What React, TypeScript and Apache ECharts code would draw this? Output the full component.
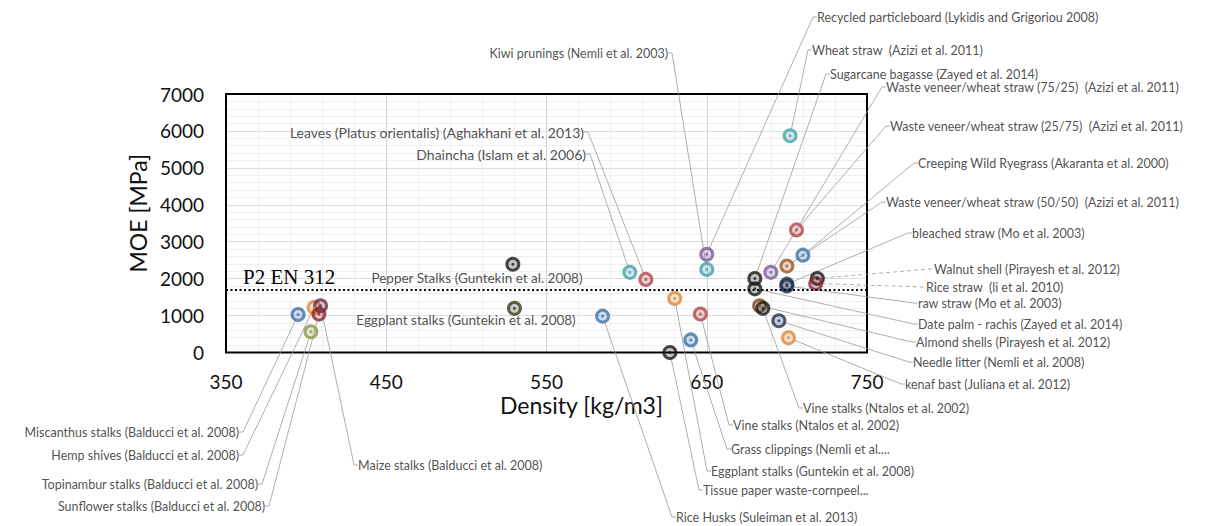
import React, { useEffect, useRef } from "react";
import * as echarts from "echarts";

const materials = [
  "Miscanthus stalks (Balducci et al. 2008)",
  "Hemp shives (Balducci et al. 2008)",
  "Topinambur stalks (Balducci et al. 2008)",
  "Sunflower stalks (Balducci et al. 2008)",
  "Maize stalks (Balducci et al. 2008)",
  "Pepper Stalks (Guntekin et al. 2008)",
  "Eggplant stalks (Guntekin et al. 2008)",
  "Leaves (Platus orientalis) (Aghakhani et al. 2013)",
  "Dhaincha (Islam et al. 2006)",
  "Kiwi prunings (Nemli et al. 2003)",
  "Recycled particleboard (Lykidis and Grigoriou 2008)",
  "Wheat straw  (Azizi et al. 2011)",
  "Sugarcane bagasse (Zayed et al. 2014)",
  "Waste veneer/wheat straw (75/25)  (Azizi et al. 2011)",
  "Waste veneer/wheat straw (25/75)  (Azizi et al. 2011)",
  "Creeping Wild Ryegrass (Akaranta et al. 2000)",
  "Waste veneer/wheat straw (50/50)  (Azizi et al. 2011)",
  "bleached straw (Mo et al. 2003)",
  "Walnut shell (Pirayesh et al. 2012)",
  "Rice straw  (li et al. 2010)",
  "raw straw (Mo et al. 2003)",
  "Date palm - rachis (Zayed et al. 2014)",
  "Almond shells (Pirayesh et al. 2012)",
  "Needle litter (Nemli et al. 2008)",
  "kenaf bast (Juliana et al. 2012)",
  "Vine stalks (Ntalos et al. 2002)",
  "Vine stalks (Ntalos et al. 2002)",
  "Grass clippings (Nemli et al....",
  "Eggplant stalks (Guntekin et al. 2008)",
  "Tissue paper waste-cornpeel...",
  "Rice Husks (Suleiman et al. 2013)",
];

const density = [
  395, 405, 403, 408, 409, 529, 530, 612, 602, 650, 650, 702, 680, 690, 706, 710,
  700, 700, 719, 718, 700, 680, 683, 695, 701, 685, 646, 640, 630, 627, 585,
];

const moe = [
  1030, 1220, 560, 1040, 1265, 2390, 1195, 1980, 2170, 2250, 2660, 5870, 2005, 2170, 3320, 2635,
  2340, 1850, 2005, 1870, 1800, 1725, 1265, 860, 400, 1195, 1040, 340, 1465, 0, 985,
];

const pointColors = [
  "#3f72a8", "#e0893a", "#8c9a48", "#8e2626", "#6b2a48", "#1a1a1a", "#3a3a22", "#b0484a",
  "#45a1ac", "#45a1ac", "#7e5a9b", "#45a1ac", "#1a1a1a", "#7e5a9b", "#b0484a", "#3f72a8",
  "#9a5a1f", "#1e3550", "#1a1a1a", "#8e2a2e", "#1e3550", "#1a1a1a", "#7a4a1a", "#1e3550",
  "#d98a3a", "#1a1a1a", "#b0484a", "#3f72a8", "#d98a3a", "#1a1a1a", "#3f72a8",
];

const dashedLeaders = [18, 19];
const noLeaders = [5, 6];
const bigLabels: Record<number, number> = { 5: 13.5, 6: 13.5, 7: 14, 8: 14 };

const yTicks = [0, 1000, 2000, 3000, 4000, 5000, 6000, 7000];
const xTicks = [350, 450, 550, 650, 750];
const standardLevel = 1700;
const standardName = "P2 EN 312";

// label anchor positions in pixels [x, y, align]
const labelPlacement: [number, number, string][] = [
  [239, 432, "right"],
  [239, 455, "right"],
  [258, 484, "right"],
  [265, 506, "right"],
  [358, 465, "left"],
  [477, 278, "center"],
  [466, 320, "center"],
  [584, 132, "right"],
  [586, 154, "right"],
  [668, 53, "right"],
  [817, 17, "left"],
  [812, 50, "left"],
  [830, 74, "left"],
  [886, 87, "left"],
  [890, 126, "left"],
  [918, 163, "left"],
  [886, 202, "left"],
  [912, 233, "left"],
  [934, 269, "left"],
  [926, 287, "left"],
  [918, 303, "left"],
  [918, 324, "left"],
  [916, 342, "left"],
  [913, 362, "left"],
  [905, 384, "left"],
  [803, 408, "left"],
  [733, 425, "left"],
  [731, 449, "left"],
  [711, 471, "left"],
  [703, 490, "left"],
  [676, 517, "left"],
];

const FONT = "Lato, 'Open Sans', sans-serif";

const GRID = { left: 226, top: 94, right: 867, bottom: 352.5 };

export default function App() {
  const ref = useRef<HTMLDivElement>(null);
  useEffect(() => {
    if (!ref.current) return;
    const chart = echarts.init(ref.current, undefined, { renderer: "svg" });
    const ringData = materials.map((name, i) => ({
      name,
      value: [density[i], moe[i]],
      itemStyle: { color: pointColors[i] + "50", borderColor: pointColors[i], borderWidth: 3 },
      label: bigLabels[i] ? { fontSize: bigLabels[i] } : undefined,
      labelLine: noLeaders.includes(i)
        ? { show: false }
        : {
            show: true,
            length2: 4,
            lineStyle: {
              color: "#9a9a9a",
              width: 0.8,
              type: dashedLeaders.includes(i) ? [4, 3] : "solid",
            },
          },
    }));
    const dotData = materials.map((name, i) => ({
      name,
      value: [density[i], moe[i]],
      itemStyle: { color: pointColors[i] },
    }));

    chart.setOption({
      animation: false,
      backgroundColor: "#ffffff",
      textStyle: { fontFamily: FONT },
      grid: {
        left: GRID.left,
        top: GRID.top,
        right: 1210 - GRID.right,
        bottom: 526 - GRID.bottom,
        show: true,
        borderWidth: 0,
        backgroundColor: "#fff",
      },
      xAxis: {
        type: "value",
        min: xTicks[0],
        max: xTicks[xTicks.length - 1],
        interval: 100,
        name: "Density [kg/m3]",
        nameLocation: "middle",
        nameGap: 41,
        nameTextStyle: { fontSize: 23, color: "#111", fontFamily: FONT, padding: [0, 0, 0, 70] },
        axisLine: { show: false },
        axisTick: { show: false },
        axisLabel: { fontSize: 19, color: "#111", margin: 19, fontFamily: FONT },
        splitLine: { show: true, lineStyle: { color: "#d4d4d4", width: 1 } },
        minorTick: { show: false, splitNumber: 5 },
        minorSplitLine: { show: true, lineStyle: { color: "#efefef", width: 1 } },
      },
      yAxis: {
        type: "value",
        min: yTicks[0],
        max: yTicks[yTicks.length - 1],
        interval: 1000,
        name: "MOE [MPa]",
        nameLocation: "middle",
        nameGap: 77,
        nameTextStyle: { fontSize: 23, color: "#111", fontFamily: FONT, padding: [0, 0, 0, 20] },
        axisLine: { show: false },
        axisTick: { show: false },
        axisLabel: {
          fontSize: 19,
          color: "#111",
          margin: 22,
          fontFamily: FONT,
          formatter: (v: number) => String(v),
        },
        splitLine: { show: true, lineStyle: { color: "#dcdcdc", width: 1 } },
        minorTick: { show: false, splitNumber: 5 },
        minorSplitLine: { show: true, lineStyle: { color: "#efefef", width: 1 } },
      },
      graphic: [
        {
          type: "rect",
          shape: {
            x: GRID.left,
            y: GRID.top,
            width: GRID.right - GRID.left,
            height: GRID.bottom - GRID.top,
          },
          style: { fill: "none", stroke: "#000", lineWidth: 2 },
          silent: true,
          z: 1,
        },
        {
          type: "text",
          left: 243,
          top: 266,
          style: {
            text: standardName,
            font: "21px 'Liberation Serif', 'DejaVu Serif', serif",
            fill: "#000",
          },
          z: 10,
        },
      ],
      series: [
        {
          type: "scatter",
          symbol: "circle",
          symbolSize: 12,
          data: ringData,
          z: 3,
          label: {
            show: true,
            formatter: "{b}",
            fontSize: 12.5,
            color: "#222",
            fontFamily: FONT,
          },
          labelLayout: (params: any) => {
            const p = labelPlacement[params.dataIndex];
            if (!p) return {};
            return { x: p[0], y: p[1], align: p[2], verticalAlign: "middle", hideOverlap: false };
          },
          emphasis: { disabled: true },
          markLine: {
            silent: true,
            symbol: "none",
            label: { show: false },
            lineStyle: { color: "#000", type: [2, 2.5], width: 2 },
            data: [{ yAxis: standardLevel }],
          },
        },
        {
          type: "scatter",
          symbol: "circle",
          symbolSize: 3,
          silent: true,
          z: 4,
          data: dotData,
          label: { show: false },
          emphasis: { disabled: true },
        },
      ],
    });
    return () => chart.dispose();
  }, []);
  return (
    <div
      ref={ref}
      style={{ position: "fixed", left: 0, top: 0, width: 1210, height: 526, background: "#fff" }}
    />
  );
}
